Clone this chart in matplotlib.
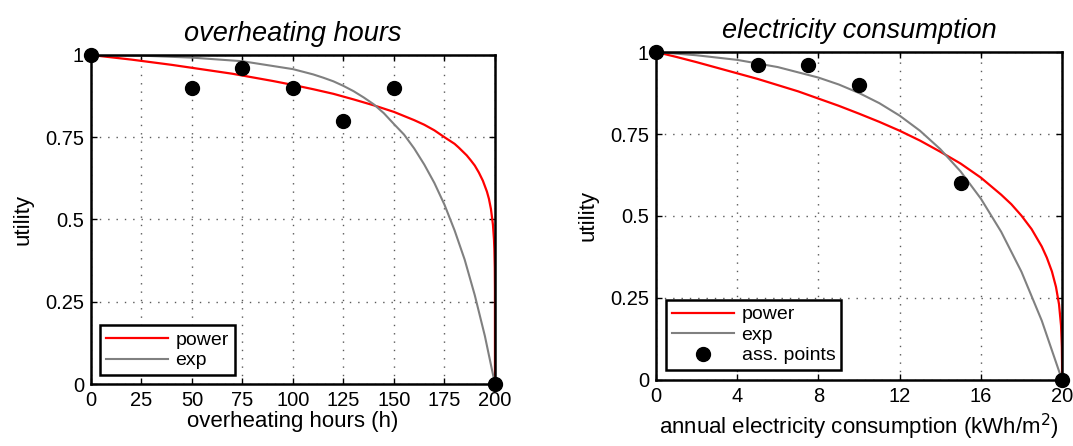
import numpy as np
import matplotlib
matplotlib.use("Agg")
import matplotlib.pyplot as plt

plt.rcParams['font.family'] = ['Liberation Sans', 'DejaVu Sans']

# overheating hours panel
oh_x = [0, 50, 75, 100, 125, 150, 200]
oh_pts = [1, 0.9, 0.96, 0.9, 0.8, 0.9, 0]
oh_pow_x = [0, 10, 20, 30, 40, 50, 60, 70, 80, 90, 100, 110, 120, 130, 140, 150, 160, 165,
            170, 175, 180, 182, 186, 188, 190, 192, 194, 196, 197, 198, 199, 199.5, 199.7,
            199.9, 199.98, 200]
oh_pow_y = [1, 0.993, 0.986, 0.978, 0.970, 0.961, 0.952, 0.943, 0.932, 0.921, 0.909, 0.896,
            0.882, 0.865, 0.847, 0.827, 0.802, 0.788, 0.771, 0.75, 0.73, 0.719, 0.695, 0.68,
            0.664, 0.643, 0.618, 0.585, 0.563, 0.532, 0.484, 0.44, 0.41, 0.353, 0.283, 0]
oh_exp_x = [0, 25, 50, 75, 100, 110, 115, 120, 125, 130, 135, 140, 145, 150, 155, 160, 165,
            170, 175, 180, 185, 190, 195, 200]
oh_exp_y = [1, 0.998, 0.992, 0.981, 0.957, 0.941, 0.931, 0.92, 0.906, 0.89, 0.871, 0.85,
            0.823, 0.79, 0.758, 0.716, 0.667, 0.611, 0.545, 0.467, 0.378, 0.27, 0.146, 0]

# electricity panel
el_x = [0, 5, 7.5, 10, 15, 20]
el_pts = [1, 0.96, 0.96, 0.9, 0.6, 0]
el_pow_x = [0, 1, 2, 3, 4, 5, 6, 7, 8, 9, 10, 11, 12, 13, 14, 15, 16, 17, 17.5, 18, 18.5,
            19, 19.25, 19.5, 19.7, 19.85, 19.95, 19.99, 19.999, 20]
el_pow_y = [1, 0.985, 0.969, 0.952, 0.935, 0.918, 0.899, 0.88, 0.858, 0.836, 0.812, 0.787,
            0.76, 0.73, 0.696, 0.66, 0.617, 0.565, 0.536, 0.501, 0.46, 0.407, 0.373, 0.331,
            0.284, 0.231, 0.166, 0.10, 0.05, 0]
el_exp_x = [0, 2, 4, 6, 8, 9, 10, 11, 12, 13, 14, 15, 16, 17, 18, 19, 20]
el_exp_y = [1, 0.99, 0.976, 0.954, 0.922, 0.901, 0.875, 0.844, 0.806, 0.76, 0.704, 0.636,
            0.553, 0.452, 0.33, 0.181, 0]

fig = plt.figure(figsize=(10.73, 4.46), dpi=100)
ax1 = fig.add_axes([0.0848, 0.139, 0.3765, 0.7377])
ax2 = fig.add_axes([0.6114, 0.148, 0.3784, 0.7354])


def style(ax, xmax, xticks):
    ax.set_xlim(0, xmax)
    ax.set_ylim(0, 1)
    ax.set_xticks(xticks)
    ax.set_yticks([0, 0.25, 0.5, 0.75, 1])
    ax.set_yticklabels(['0', '0.25', '0.5', '0.75', '1'])
    ax.grid(True, linestyle=(0, (1, 5)), color='0.35', linewidth=1.0)
    ax.tick_params(direction='in', labelsize=14.5, length=4, width=1, top=True, right=True, pad=5)
    for s in ax.spines.values():
        s.set_linewidth(1.8)
    ax.set_ylabel('utility', fontsize=16, labelpad=8)


ax1.plot(oh_pow_x, oh_pow_y, color='red', lw=1.6, label='power')
ax1.plot(oh_exp_x, oh_exp_y, color='gray', lw=1.5, label='exp')
ax1.plot(oh_x, oh_pts, 'o', color='black', ms=10, clip_on=False, zorder=5)
style(ax1, 200, np.arange(0, 201, 25))
ax1.set_xlabel('overheating hours (h)', fontsize=16, labelpad=1)
ax1.set_title('overheating hours', fontsize=19.5, style='italic', pad=10)
leg1 = ax1.legend(loc='lower left', fontsize=14, fancybox=False, framealpha=1,
                  edgecolor='black', borderaxespad=0.45, handlelength=3.2,
                  borderpad=0.3, labelspacing=0.15, handletextpad=0.4)
leg1.get_frame().set_linewidth(1.8)

ax2.plot(el_pow_x, el_pow_y, color='red', lw=1.6, label='power')
ax2.plot(el_exp_x, el_exp_y, color='gray', lw=1.5, label='exp')
ax2.plot(el_x, el_pts, 'o', color='black', ms=10, clip_on=False, zorder=5, label='ass. points')
style(ax2, 20, [0, 4, 8, 12, 16, 20])
ax2.set_xlabel('annual electricity consumption (kWh/m$^2$)', fontsize=16, labelpad=4)
ax2.set_title('electricity consumption', fontsize=19.5, style='italic', pad=10)
leg2 = ax2.legend(loc='lower left', fontsize=14, fancybox=False, framealpha=1,
                  edgecolor='black', borderaxespad=0.5, handlelength=3.2,
                  borderpad=0.3, labelspacing=0.15, handletextpad=0.4)
leg2.get_frame().set_linewidth(1.8)

fig.savefig('out.png', dpi=100)
